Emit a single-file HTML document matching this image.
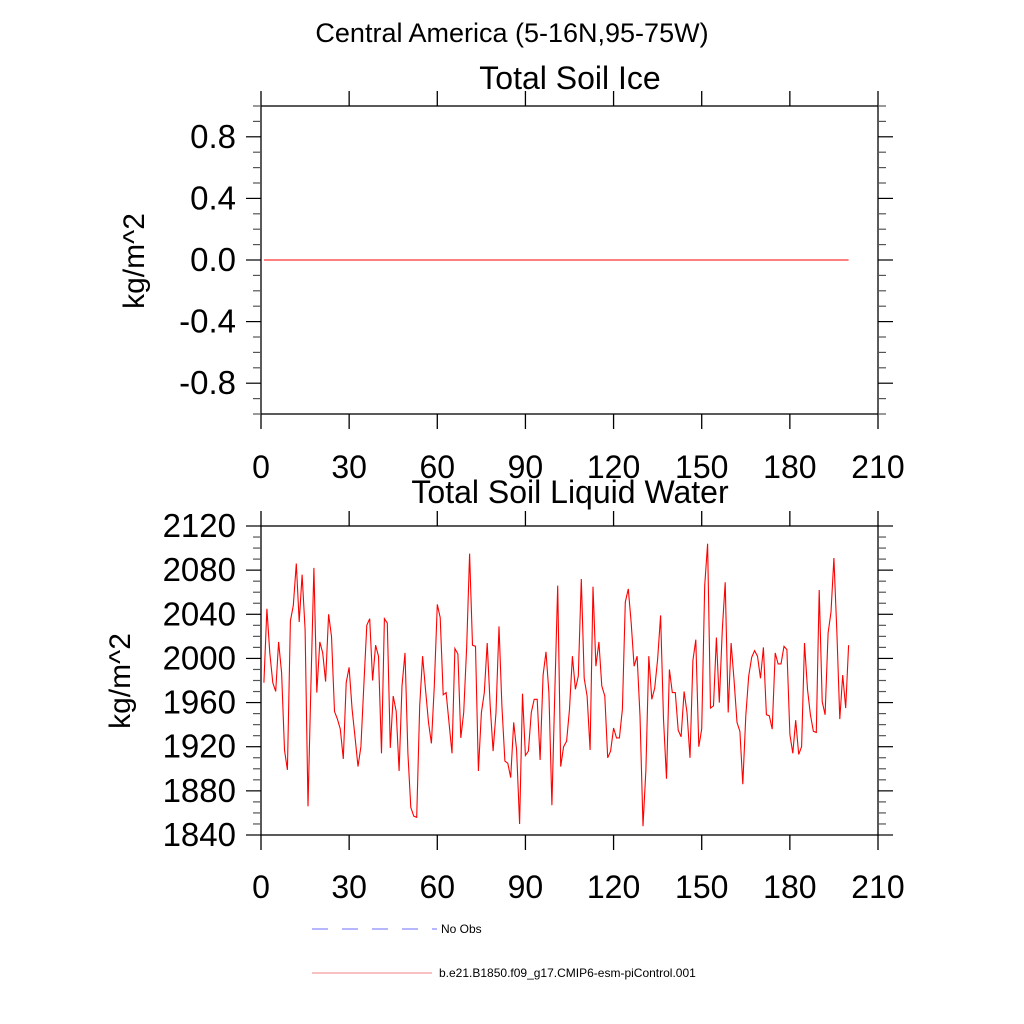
<!DOCTYPE html>
<html><head><meta charset="utf-8"><style>
html,body{margin:0;padding:0;background:#fff}
svg{display:block;font-family:"Liberation Sans",sans-serif}
</style></head><body>
<svg id="c" width="1024" height="1024" viewBox="0 0 1024 1024">
<text x="512" y="42" font-size="27" text-anchor="middle">Central America (5-16N,95-75W)</text>
<text x="570" y="89" font-size="32" text-anchor="middle">Total Soil Ice</text>
<text x="570" y="503" font-size="32" text-anchor="middle">Total Soil Liquid Water</text>
<text transform="translate(144,261) rotate(-90)" font-size="30" text-anchor="middle">kg/m^2</text>
<text transform="translate(130,681) rotate(-90)" font-size="30" text-anchor="middle">kg/m^2</text>
<g id="top"></g>
<g id="bot"></g>
<g>
<line x1="312" y1="929" x2="437" y2="929" stroke="#6f6fff" stroke-width="1" stroke-dasharray="16,14"/>
<text x="441" y="933" font-size="12">No Obs</text>
<line x1="312" y1="973" x2="432" y2="973" stroke="#f08080" stroke-width="1"/>
<text x="439" y="977" font-size="12">b.e21.B1850.f09_g17.CMIP6-esm-piControl.001</text>
</g>
</svg>
<script>
const xTicks = [0,30,60,90,120,150,180,210];
const iceYTicks = [0.8,0.4,0.0,-0.4,-0.8];
const iceYLabels = ["0.8","0.4","0.0","-0.4","-0.8"];
const waterYTicks = [2120,2080,2040,2000,1960,1920,1880,1840];
const years = Array.from({length:200},(_,i)=>i+1);
const iceValues = years.map(()=>0);
const waterValues = [
1978,2045,2005,1978,1970,2015,1987,1917,1899,2034,2048,2086,2033,2076,2026,1866,1975,2082,1969,2015,
2005,1979,2040,2020,1952,1945,1936,1909,1978,1992,1954,1929,1902,1920,1975,2030,2036,1980,2012,2002,
1914,2036,2032,1919,1966,1952,1898,1975,2005,1914,1865,1857,
1856,1957,2002,1972,1942,1923,1975,2049,2037,1967,1969,1942,1914,2009,2004,1928,1951,2011,2095,2012,
2011,1898,1951,1969,2014,1957,1916,1951,2029,1957,1907,1905,1892,1942,1917,1850,1968,1912,1916,1951,
1963,1963,1908,1985,2006,1969,1867,1969,2066,1902,1920,
1925,1954,2002,1972,1984,2072,1982,1966,1917,2065,1993,2015,1975,1966,1910,1916,1937,1928,1928,1954,
2051,2063,2032,1993,2002,1948,1848,1899,2002,1963,1973,1999,2039,1945,1891,1990,1969,1969,1935,1929,
1970,1951,1910,1998,2017,1920,1936,2066,2104,1955,1957,
2019,1960,2026,2069,1951,2014,1981,1942,1934,1886,1948,1984,2001,2007,2002,1982,2010,1949,1948,1936,
2005,1995,1995,2011,2008,1931,1914,1944,1913,1920,2014,1972,1949,1934,1933,2062,1961,1949,2023,2042,
2091,2023,1945,1985,1955,2012];
const NS='http://www.w3.org/2000/svg';
function mk(p,tag,a){const e=document.createElementNS(NS,tag);for(const k in a)e.setAttribute(k,a[k]);p.appendChild(e);return e;}
const X0=261,X1=878;
function xs(v){return X0+(v-0)/(210-0)*(X1-X0);}
function panel(g,top,bot,ymin,ymax,majors,labels,minorStep,vals,labelY){
  const ys=v=>bot-(v-ymin)/(ymax-ymin)*(bot-top);
  const fr=mk(g,'rect',{x:X0,y:top,width:X1-X0,height:bot-top,fill:'none',stroke:'#000','stroke-width':1.3});
  
  
  xTicks.forEach(t=>{
    const x=xs(t);
    mk(g,'line',{x1:x,y1:bot,x2:x,y2:bot+15,stroke:'#000','stroke-width':1.3});
    mk(g,'line',{x1:x,y1:top,x2:x,y2:top-15,stroke:'#000','stroke-width':1.3});
    const tx=mk(g,'text',{x:x,y:labelY,'font-size':32,'text-anchor':'middle'});
    tx.textContent=t;
    
    
  });
  const n=Math.round((ymax-ymin)/minorStep);
  for(let i=0;i<=n;i++){
    const v=ymin+i*minorStep;const y=ys(v);
    const isMaj=majors.some(m=>Math.abs(m-v)<minorStep/10);
    const L=isMaj?15:8;
    mk(g,'line',{x1:X0,y1:y,x2:X0-L,y2:y,stroke:isMaj?'#000':'#555','stroke-width':1.2});
    mk(g,'line',{x1:X1,y1:y,x2:X1+L,y2:y,stroke:isMaj?'#000':'#555','stroke-width':1.2});
  }
  majors.forEach((m,i)=>{
    const tx=mk(g,'text',{x:X0-25,y:ys(m)+11,'font-size':33,'text-anchor':'end'});
    tx.textContent=labels[i];
    
    
  });
  const pts=years.map((yr,i)=>xs(yr).toFixed(1)+','+ys(vals[i]).toFixed(1)).join(' ');
  const pl=mk(g,'polyline',{points:pts,fill:'none',stroke:'#ff0000','stroke-width':1.1});
  
  
}
panel(document.getElementById('top'),106,414,-1,1,iceYTicks,iceYLabels,0.1,iceValues,478);
panel(document.getElementById('bot'),526,835,1840,2120,waterYTicks,waterYTicks.map(String),10,waterValues,898);
</script>
</body></html>
